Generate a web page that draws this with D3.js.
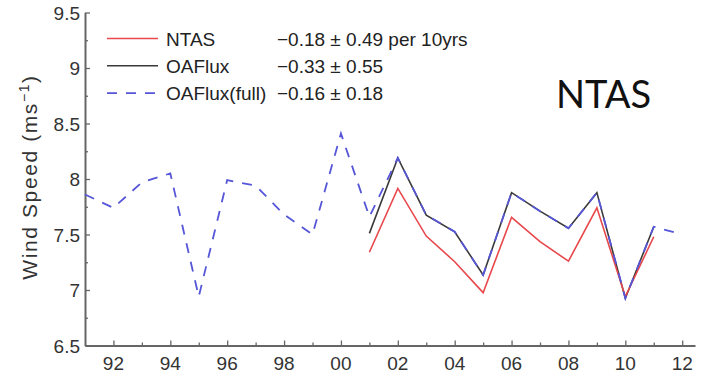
<!DOCTYPE html>
<html>
<head>
<meta charset="utf-8">
<script src="https://cdn.jsdelivr.net/npm/d3@7.9.0/dist/d3.min.js"></script>
<style>
  html, body { margin: 0; padding: 0; background: #fff; }
  svg { display: block; font-family: 'Liberation Sans', Arial, sans-serif; }
</style>
</head>
<body>
<svg id="chart" width="707" height="374"></svg>
<script>
// data
const fullYears = [1991, 1992, 1993, 1994, 1995, 1996, 1997, 1998, 1999, 2000, 2001, 2002, 2003, 2004, 2005, 2006, 2007, 2008, 2009, 2010, 2011, 2012];
const fullValues = [7.86, 7.74, 7.97, 8.05, 6.94, 7.99, 7.94, 7.68, 7.5, 8.41, 7.66, 8.19, 7.675, 7.525, 7.135, 7.877, 7.71, 7.556, 7.877, 6.925, 7.57, 7.5];

const years = [2001, 2002, 2003, 2004, 2005, 2006, 2007, 2008, 2009, 2010, 2011];
const oafluxValues = [7.51, 8.19, 7.675, 7.525, 7.135, 7.877, 7.71, 7.556, 7.877, 6.925, 7.57];
const ntasValues = [7.34, 7.915, 7.486, 7.255, 6.976, 7.655, 7.435, 7.26, 7.74, 6.94, 7.48];

const legendLabels = ['NTAS', 'OAFlux', 'OAFlux(full)'];
const legendTrends = ['\u22120.18 \u00b1 0.49 per 10yrs', '\u22120.33 \u00b1 0.55', '\u22120.16 \u00b1 0.18'];

const yMajorTicks = [6.5, 7, 7.5, 8, 8.5, 9, 9.5];
const yMinorTicks = [6.75, 7.25, 7.75, 8.25, 8.75, 9.25];
const xMajorTicks = [1992, 1994, 1996, 1998, 2000, 2002, 2004, 2006, 2008, 2010, 2012];
const xMinorTicks = [1993, 1995, 1997, 1999, 2001, 2003, 2005, 2007, 2009, 2011];

const RED = '#e8474c';
const BLACK = '#3a3a3a';
const BLUE = '#5656d8';
const AXIS = '#666';
const DASH = '10,9';

const svg = d3.select('#chart');
const x = d3.scaleLinear().domain([1991, 2012.45]).range([85, 695]);
const y = d3.scaleLinear().domain([6.5, 9.5]).range([345.5, 12.5]);

// axes (left + bottom only, ticks pointing inward)
const gx = svg.append('g').attr('transform', `translate(0,${y(6.5)})`);
gx.call(d3.axisTop(x).tickValues(xMajorTicks).tickSize(5).tickSizeOuter(0).tickFormat(() => ''));
gx.append('g').call(d3.axisTop(x).tickValues(xMinorTicks).tickSize(3).tickSizeOuter(0).tickFormat(() => ''))
  .select('.domain').remove();
gx.selectAll('.domain').attr('stroke', AXIS).attr('stroke-width', 2);
gx.selectAll('line').attr('stroke', AXIS).attr('stroke-width', 1.3);
gx.selectAll('text.lbl')
  .data(xMajorTicks)
  .join('text')
  .attr('class', 'lbl')
  .attr('x', (d) => x(d))
  .attr('y', 24.5)
  .attr('text-anchor', 'middle')
  .attr('font-size', 19)
  .attr('fill', '#333')
  .text((d) => d3.format('02d')(d % 100));

const gy = svg.append('g').attr('transform', `translate(${x(1991)},0)`);
gy.call(d3.axisRight(y).tickValues(yMajorTicks).tickSize(5).tickSizeOuter(0).tickFormat(() => ''));
gy.append('g').call(d3.axisRight(y).tickValues(yMinorTicks).tickSize(3).tickSizeOuter(0).tickFormat(() => ''))
  .select('.domain').remove();
gy.selectAll('.domain').attr('stroke', AXIS).attr('stroke-width', 2);
gy.selectAll('line').attr('stroke', AXIS).attr('stroke-width', 1.3);
gy.selectAll('text.lbl')
  .data(yMajorTicks)
  .join('text')
  .attr('class', 'lbl')
  .attr('x', -5)
  .attr('y', (d) => y(d) + 7)
  .attr('text-anchor', 'end')
  .attr('font-size', 19)
  .attr('fill', '#333')
  .text((d) => d);

const ylab = svg.append('text')
  .attr('transform', `translate(37,177) rotate(-90)`)
  .attr('text-anchor', 'middle')
  .attr('font-size', 21)
  .attr('letter-spacing', 1.6)
  .attr('fill', '#333');
ylab.append('tspan').text('Wind Speed (ms');
ylab.append('tspan').attr('dy', -8).attr('font-size', 14).text('\u22121');
ylab.append('tspan').attr('dy', 8).text(')');

// lines
const line = d3.line().x((d) => x(d[0])).y((d) => y(d[1]));

svg.append('path')
  .datum(years.map((yr, i) => [yr, oafluxValues[i]]))
  .attr('d', line)
  .attr('fill', 'none')
  .attr('stroke', BLACK)
  .attr('stroke-width', 1.6);

svg.append('path')
  .datum(years.map((yr, i) => [yr, ntasValues[i]]))
  .attr('d', line)
  .attr('fill', 'none')
  .attr('stroke', RED)
  .attr('stroke-width', 1.6);

svg.append('path')
  .datum(fullYears.map((yr, i) => [yr, fullValues[i]]))
  .attr('d', line)
  .attr('fill', 'none')
  .attr('stroke', BLUE)
  .attr('stroke-width', 1.8)
  .attr('stroke-dasharray', DASH);

// legend
const legendColors = [RED, BLACK, BLUE];
const legendDash = [null, null, DASH];
const lg = svg.append('g');
legendLabels.forEach((label, i) => {
  const ly = 38.5 + i * 27.3;
  lg.append('line')
    .attr('x1', 107).attr('x2', 158)
    .attr('y1', ly).attr('y2', ly)
    .attr('stroke', legendColors[i])
    .attr('stroke-width', 1.6)
    .attr('stroke-dasharray', legendDash[i]);
  lg.append('text')
    .attr('x', 166).attr('y', ly + 7)
    .attr('font-size', 19)
    .attr('fill', '#222')
    .text(label);
  lg.append('text')
    .attr('x', 277).attr('y', ly + 7)
    .attr('font-size', 19)
    .attr('fill', '#222')
    .text(legendTrends[i]);
});

svg.append('text')
  .attr('x', 556).attr('y', 108)
  .attr('font-family', 'Lato, sans-serif')
  .attr('font-size', 38)
  .attr('fill', '#111')
  .text('NTAS');
</script>
</body>
</html>
